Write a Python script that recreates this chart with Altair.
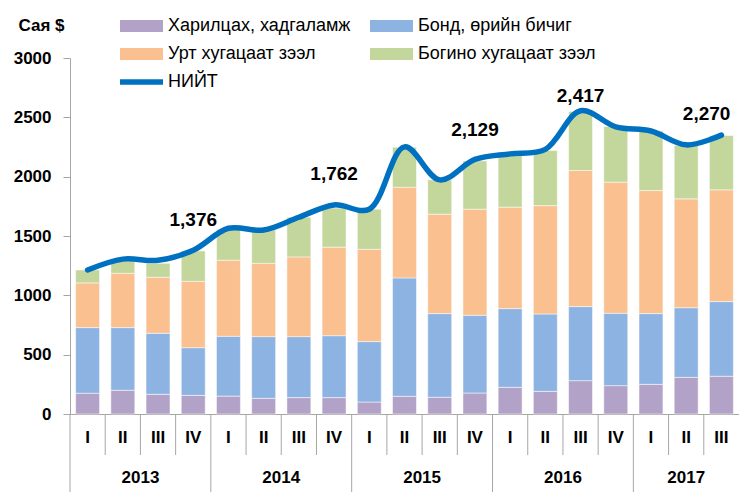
import altair as alt
import pandas as pd

# ---------------- data ----------------
years = ["2013"] * 4 + ["2014"] * 4 + ["2015"] * 4 + ["2016"] * 4 + ["2017"] * 3
quarters = ["I", "II", "III", "IV"] * 4 + ["I", "II", "III"]

series_names = ["Харилцах, хадгаламж", "Бонд, өрийн бичиг",
                "Урт хугацаат зээл", "Богино хугацаат зээл"]
deposits = [175, 200, 166, 157, 151, 132, 138, 138, 101, 149, 141, 177,
            225, 191, 281, 239, 250, 309, 318]
bonds = [553, 528, 514, 402, 504, 520, 514, 522, 509, 998, 705, 655,
         663, 652, 624, 610, 596, 587, 629]
long_loans = [377, 458, 472, 559, 641, 618, 672, 746, 778, 764, 838, 894,
              855, 913, 1147, 1105, 1037, 917, 942]
short_loans = [109, 104, 118, 256, 261, 281, 334, 329, 338, 337, 289, 407,
               432, 464, 497, 469, 503, 449, 458]
total_name = "НИЙТ"
total = [1214, 1305, 1295, 1380, 1565, 1550, 1658, 1762, 1726, 2251, 1973, 2145,
         2192, 2230, 2555, 2420, 2385, 2268, 2350]
label_index = [3, 7, 11, 14, 18]
label_values = [1376, 1762, 2129, 2417, 2270]
y_title = "Сая $"
y_ticks = [0, 500, 1000, 1500, 2000, 2500, 3000]

colors = ["#B3A2C7", "#8DB3E2", "#FAC090", "#C3D69B"]
line_color = "#0070C0"
axis_grey = "#A6A6A6"
FONT = "Liberation Sans, Arial, sans-serif"

# ---------------- tables ----------------
keys = [f"{y} {q}" for y, q in zip(years, quarters)]
values = [deposits, bonds, long_loans, short_loans]
bar_rows = []
for s_i, (name, vals) in enumerate(zip(series_names, values)):
    for k, v in zip(keys, vals):
        bar_rows.append({"key": k, "series": name, "order": s_i, "value": v})
bars_df = pd.DataFrame(bar_rows)

line_df = pd.DataFrame({"key": keys, "total": total, "name": total_name})
lab_df = pd.DataFrame({"key": [keys[i] for i in label_index], "value": label_values})

sep_df = pd.DataFrame({"i": list(range(len(keys))), "q": quarters})
year_list = sorted(set(years))
year_df = pd.DataFrame({
    "year": year_list,
    "first": [years.index(y) for y in year_list],
    "n": [years.count(y) for y in year_list],
})

W, H = 669, 356
N = len(keys)

# ---------------- main (band scale) layers ----------------
x_band = alt.X("key:N", sort=keys,
               scale=alt.Scale(paddingInner=0.32, paddingOuter=0.16),
               axis=alt.Axis(title=None, labelExpr="split(datum.value, ' ')[1]",
                             ticks=False, tickSize=0, labelPadding=23,
                             labelBaseline="middle", labelAngle=0,
                             labelFont=FONT, labelFontSize=17, labelFontWeight="bold",
                             labelColor="black", domainColor=axis_grey, domainWidth=1,
                             grid=False))

y_axis = alt.Axis(values=y_ticks, format="d", tickSize=7,
                  labelPadding=12, labelFont=FONT, labelFontSize=17,
                  labelFontWeight="bold", labelColor="black",
                  domainColor=axis_grey, tickColor=axis_grey, grid=False,
                  title=y_title, titleAngle=0, titleX=-52, titleY=-33,
                  titleAlign="left", titleBaseline="middle", titleFont=FONT,
                  titleFontSize=17, titleFontWeight="bold", titleColor="black")

bars = alt.Chart(bars_df).mark_bar(stroke="white", strokeWidth=0.5).encode(
    x=x_band,
    y=alt.Y("value:Q", stack="zero",
            scale=alt.Scale(domain=[0, 3000], nice=False), axis=y_axis),
    color=alt.Color("series:N", sort=series_names,
                    scale=alt.Scale(domain=series_names, range=colors),
                    legend=alt.Legend(title=None, orient="none", legendX=50, legendY=-42,
                                      columns=2, direction="horizontal",
                                      symbolType="M-1,-0.28H1V0.28H-1Z",
                                      symbolSize=1849, symbolStrokeWidth=0,
                                      symbolOpacity=1, clipHeight=20, rowPadding=8,
                                      columnPadding=19, labelFont=FONT,
                                      labelFontSize=18, labelColor="black",
                                      labelOffset=5, padding=0, labelLimit=400)),
    order=alt.Order("order:Q"),
)

line = alt.Chart(line_df).mark_line(strokeWidth=5.5, interpolate="catmull-rom",
                                    strokeCap="round").encode(
    x=alt.X("key:N", sort=keys),
    y=alt.Y("total:Q"),
    stroke=alt.Stroke("name:N", scale=alt.Scale(domain=[total_name], range=[line_color]),
                      legend=alt.Legend(title=None, orient="none", legendX=47, legendY=14,
                                        symbolType="stroke", symbolSize=1849,
                                        symbolStrokeWidth=5.5, clipHeight=20,
                                        labelFont=FONT, labelFontSize=18,
                                        labelColor="black", labelOffset=2, padding=0)),
)

labels = alt.Chart(lab_df).transform_filter(
    alt.datum.key != keys[label_index[-1]]
).mark_text(font=FONT, fontSize=19, fontWeight="bold", color="black",
            dy=-31, baseline="middle").encode(
    x=alt.X("key:N", sort=keys),
    y=alt.Y("value:Q"),
    text=alt.Text("value:Q", format=","),
)
last_label = alt.Chart(lab_df).transform_filter(
    alt.datum.key == keys[label_index[-1]]
).mark_text(font=FONT, fontSize=19, fontWeight="bold", color="black",
            dy=-31, dx=9, align="right", baseline="middle").encode(
    x=alt.X("key:N", sort=keys),
    y=alt.Y("value:Q"),
    text=alt.Text("value:Q", format=","),
)

main = alt.layer(bars, line, labels, last_label)

# ---------------- category separators and years (index scale) ----------------
x_idx = alt.X("i:Q", scale=alt.Scale(domain=[0, N], nice=False, zero=False), axis=None)

q_seps = alt.Chart(sep_df).transform_filter(alt.datum.q != "I").mark_rule(
    color=axis_grey, strokeWidth=1).encode(
    x=x_idx, y=alt.value(H), y2=alt.value(H + 41))
y_seps = alt.Chart(sep_df).transform_filter(alt.datum.q == "I").mark_rule(
    color=axis_grey, strokeWidth=1).encode(
    x=x_idx, y=alt.value(H), y2=alt.value(H + 78))
year_text = alt.Chart(year_df).transform_calculate(
    i="datum.first + datum.n / 2"
).mark_text(font=FONT, fontSize=17, fontWeight="bold", color="black",
            baseline="middle").encode(
    x=x_idx, y=alt.value(H + 64), text="year:N")

idx_layer = alt.layer(q_seps, y_seps, year_text)

chart = alt.layer(main, idx_layer).resolve_scale(x="independent").properties(
    width=W, height=H,
    padding={"left": 70, "top": 58, "right": 0, "bottom": 78},
    autosize=alt.AutoSizeParams(type="none"),
    background="white",
).configure_view(stroke=None)

chart.save("out.html", embed_options={"renderer": "svg", "actions": False})
